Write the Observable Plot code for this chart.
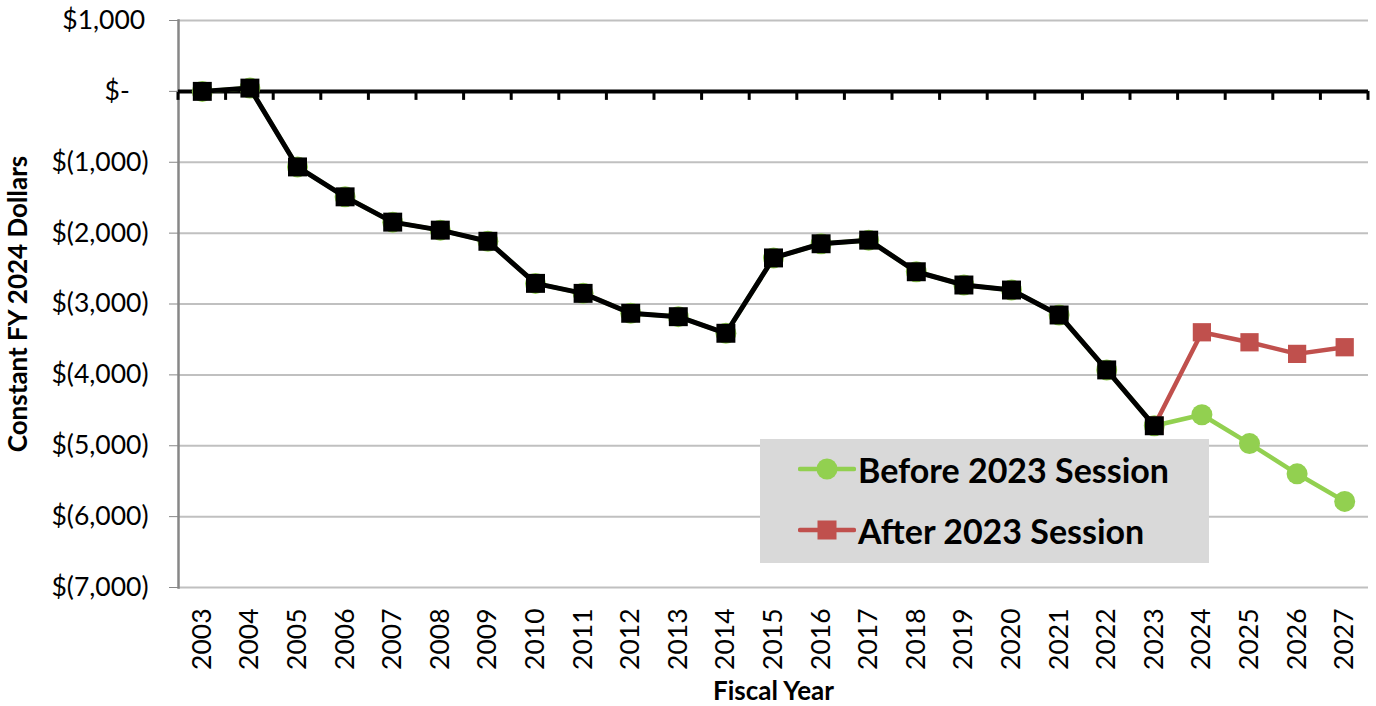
<!DOCTYPE html>
<html><head><meta charset="utf-8">
<script src="https://cdn.jsdelivr.net/npm/d3@7"></script>
<script src="https://cdn.jsdelivr.net/npm/@observablehq/plot@0.6"></script>
<style>
body{margin:0;background:#fff;}
#wrap{position:relative;width:1376px;height:706px;font-family:Lato,sans-serif;}
#legend{position:absolute;left:760px;top:439px;width:449px;height:124px;background:#d9d9d9;}
.row{position:absolute;left:38px;height:40px;display:flex;align-items:center;font-weight:bold;font-size:34px;color:#000;white-space:nowrap;}
.row svg{margin-right:2px;}
</style></head><body><div id="wrap"></div>
<script>
const years = ["2003","2004","2005","2006","2007","2008","2009","2010","2011","2012","2013","2014","2015","2016","2017","2018","2019","2020","2021","2022","2023","2024","2025","2026","2027"];
const historyYears = years.slice(0, 21);
const historyValues = [0, 46, -1066, -1488, -1845, -1958, -2115, -2709, -2850, -3131, -3179, -3413, -2350, -2150, -2099, -2545, -2732, -2803, -3155, -3930, -4718];
const projectionYears = ["2024","2025","2026","2027"];
const beforeValues = [-4563, -4970, -5396, -5785];
const afterValues = [-3399, -3540, -3704, -3610];
const yTicks = [1000, 0, -1000, -2000, -3000, -4000, -5000, -6000, -7000];
const seriesNames = ["Before 2023 Session", "After 2023 Session"];
const colors = {before: "#92d050", after: "#c0504d", history: "#000000"};

const history = historyYears.map((year, i) => ({year, value: historyValues[i]}));
const before = history.concat(projectionYears.map((year, i) => ({year, value: beforeValues[i]})));
const after = history.slice(-1).concat(projectionYears.map((year, i) => ({year, value: afterValues[i]})));

const fmt = d3.format(",");
const tickFormat = d => d === 0 ? "$-\u2007\u2009" : d < 0 ? `$(${fmt(-d)})` : `$${fmt(d)}\u2009`;

function boundaryTicks(index, scales) {
  const x = scales.x, y = scales.y;
  const step = x(years[1]) - x(years[0]);
  const y0 = y(0);
  const g = d3.create("svg:g");
  const bounds = years.map(yr => x(yr) - step / 2).concat([x(years[years.length - 1]) + step / 2]);
  g.selectAll("line").data(bounds).join("line")
    .attr("x1", d => d).attr("x2", d => d)
    .attr("y1", y0).attr("y2", y0 + 9)
    .attr("stroke", "#000").attr("stroke-width", 3);
  return g.node();
}

const chart = Plot.plot({
  width: 1376,
  height: 706,
  marginLeft: 178,
  marginRight: 8,
  marginTop: 20,
  marginBottom: 119,
  style: {fontFamily: "Lato, sans-serif", fontSize: "26.5px", color: "#000", background: "#fff", overflow: "visible"},
  x: {type: "point", domain: years, padding: 0.5, round: false},
  y: {domain: [-7000, 1000]},
  marks: [
    Plot.ruleY(yTicks, {stroke: "#c0c0c0", strokeWidth: 2}),
    Plot.frame({anchor: "left", stroke: "#878787", strokeWidth: 2.5}),
    Plot.ruleY([0], {stroke: "#000", strokeWidth: 4}),
    boundaryTicks,
    Plot.line(before, {x: "year", y: "value", stroke: colors.before, strokeWidth: 4.5}),
    Plot.dot(before, {x: "year", y: "value", fill: colors.before, r: 10.5, symbol: "circle"}),
    Plot.line(after, {x: "year", y: "value", stroke: colors.after, strokeWidth: 4.5}),
    Plot.dot(after, {x: "year", y: "value", fill: colors.after, r: 10.3, symbol: "square"}),
    Plot.line(history, {x: "year", y: "value", stroke: colors.history, strokeWidth: 5}),
    Plot.dot(history, {x: "year", y: "value", fill: colors.history, r: 10.7, symbol: "square"}),
    Plot.axisY({ticks: yTicks, tickFormat, tickSize: 9, tickPadding: 21, stroke: "#878787", fontSize: 26.5, label: null}),
    Plot.axisX({anchor: "bottom", tickRotate: -90, tickSize: 0, tickPadding: 21, fontSize: 26.5, label: null}),
    Plot.text(["Constant FY 2024 Dollars"], {frameAnchor: "left", rotate: -90, dx: -160, textAnchor: "middle", fontWeight: "bold", fontSize: 26, lineAnchor: "middle"}),
    Plot.text(["Fiscal Year"], {frameAnchor: "bottom", dy: 104, textAnchor: "middle", fontWeight: "bold", fontSize: 26, lineAnchor: "middle"})
  ]
});

const wrap = document.getElementById("wrap");
wrap.appendChild(chart);

const legend = document.createElement("div");
legend.id = "legend";
const rows = [
  {name: seriesNames[0], color: colors.before, symbol: "circle", top: 10},
  {name: seriesNames[1], color: colors.after, symbol: "square", top: 71}
];
for (const r of rows) {
  const row = document.createElement("div");
  row.className = "row";
  row.style.top = r.top + "px";
  const marker = r.symbol === "circle"
    ? `<circle cx="29" cy="20" r="10.5" fill="${r.color}"/>`
    : `<rect x="19.5" y="10.5" width="19" height="19" fill="${r.color}"/>`;
  row.innerHTML = `<svg width="58" height="40"><line x1="2" x2="56" y1="20" y2="20" stroke="${r.color}" stroke-width="4.5" stroke-linecap="round"/>${marker}</svg><span>${r.name}</span>`;
  legend.appendChild(row);
}
wrap.appendChild(legend);
</script>
</body></html>
